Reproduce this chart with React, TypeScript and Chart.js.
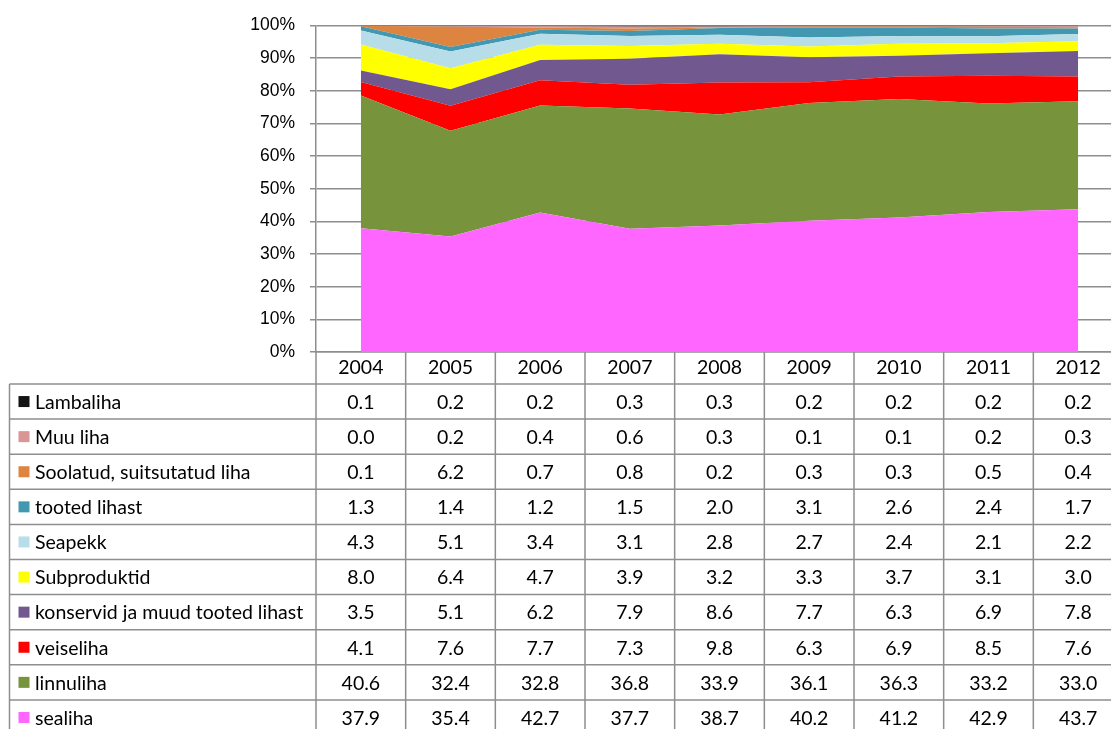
import React, { useEffect, useRef } from 'react';
import { Chart, registerables } from 'chart.js';

Chart.register(...registerables);

// ---- Data (percent shares) ----
const years = ['2004', '2005', '2006', '2007', '2008', '2009', '2010', '2011', '2012'];

const lambaliha = [0.1, 0.2, 0.2, 0.3, 0.3, 0.2, 0.2, 0.2, 0.2];
const muuLiha = [0.0, 0.2, 0.4, 0.6, 0.3, 0.1, 0.1, 0.2, 0.3];
const soolatud = [0.1, 6.2, 0.7, 0.8, 0.2, 0.3, 0.3, 0.5, 0.4];
const tootedLihast = [1.3, 1.4, 1.2, 1.5, 2.0, 3.1, 2.6, 2.4, 1.7];
const seapekk = [4.3, 5.1, 3.4, 3.1, 2.8, 2.7, 2.4, 2.1, 2.2];
const subproduktid = [8.0, 6.4, 4.7, 3.9, 3.2, 3.3, 3.7, 3.1, 3.0];
const konservid = [3.5, 5.1, 6.2, 7.9, 8.6, 7.7, 6.3, 6.9, 7.8];
const veiseliha = [4.1, 7.6, 7.7, 7.3, 9.8, 6.3, 6.9, 8.5, 7.6];
const linnuliha = [40.6, 32.4, 32.8, 36.8, 33.9, 36.1, 36.3, 33.2, 33.0];
const sealiha = [37.9, 35.4, 42.7, 37.7, 38.7, 40.2, 41.2, 42.9, 43.7];

const seriesNames = [
  'Lambaliha',
  'Muu liha',
  'Soolatud, suitsutatud liha',
  'tooted lihast',
  'Seapekk',
  'Subproduktid',
  'konservid ja muud tooted lihast',
  'veiseliha',
  'linnuliha',
  'sealiha',
];
const seriesValues = [
  lambaliha,
  muuLiha,
  soolatud,
  tootedLihast,
  seapekk,
  subproduktid,
  konservid,
  veiseliha,
  linnuliha,
  sealiha,
];
const seriesColors = [
  '#141414',
  '#D99694',
  '#DD8441',
  '#4298B0',
  '#B7DEE8',
  '#FFFF00',
  '#71588F',
  '#FF0000',
  '#77933C',
  '#FF66FF',
];

const yTickValues = [0, 10, 20, 30, 40, 50, 60, 70, 80, 90, 100];

// ---- styling ----
const LINE = '#8e8e8e';
const TABLE_FONT_SIZE = 19.5;
const TABLE_FONT = `${TABLE_FONT_SIZE}px Lato`;
const ROW_H = 35.1;
const HEADER_H = 32;
const TABLE_LEFT = 9.5;

const columnSums = years.map((_, j) => seriesValues.reduce((s, arr) => s + arr[j], 0));

const tablePlugin = {
  id: 'dataTable',
  afterDraw(chart: any) {
    const ctx: CanvasRenderingContext2D = chart.ctx;
    const xs = chart.scales.x;
    const area = chart.chartArea;
    const n = years.length;
    const step = xs.getPixelForValue(1) - xs.getPixelForValue(0);
    const left = xs.getPixelForValue(0) - step / 2;
    const right = xs.getPixelForValue(n - 1) + step / 2;
    const headerBottom = area.bottom + HEADER_H;
    const H = chart.height;

    ctx.save();
    ctx.strokeStyle = LINE;
    ctx.lineWidth = 1.5;
    const line = (x1: number, y1: number, x2: number, y2: number) => {
      ctx.beginPath();
      ctx.moveTo(x1, y1);
      ctx.lineTo(x2, y2);
      ctx.stroke();
    };
    for (let i = 0; i <= n; i++) {
      const x = left + i * step;
      line(x, area.bottom, x, H);
    }
    line(TABLE_LEFT, headerBottom, TABLE_LEFT, H);
    for (let r = 0; r <= seriesNames.length; r++) {
      const y = headerBottom + r * ROW_H;
      line(TABLE_LEFT, y, right, y);
    }

    ctx.font = TABLE_FONT;
    ctx.fillStyle = '#000';
    ctx.textBaseline = 'middle';
    seriesNames.forEach((name, r) => {
      const cy = headerBottom + (r + 0.5) * ROW_H;
      ctx.fillStyle = seriesColors[r];
      ctx.fillRect(18.5, cy - 5.5, 11, 11);
      ctx.fillStyle = '#000';
      ctx.textAlign = 'left';
      ctx.fillText(name, 35, cy + 1);
      ctx.textAlign = 'center';
      seriesValues[r].forEach((v, j) => {
        ctx.fillText(v.toFixed(1), xs.getPixelForValue(j), cy + 1);
      });
    });
    ctx.restore();
  },
};

export default function App() {
  const ref = useRef<HTMLCanvasElement | null>(null);

  useEffect(() => {
    if (!ref.current) return;
    const stackOrder = [...seriesNames.keys()].reverse();
    const datasets = stackOrder.map((idx, k) => ({
      label: seriesNames[idx],
      data: seriesValues[idx].map((v, j) => (v / columnSums[j]) * 100),
      backgroundColor: seriesColors[idx],
      borderColor: 'rgba(0,0,0,0)',
      borderWidth: 0,
      pointRadius: 0,
      pointHoverRadius: 0,
      tension: 0,
      fill: k === 0 ? 'origin' : '-1',
    }));

    const chart = new Chart(ref.current, {
      type: 'line',
      data: { labels: years, datasets },
      options: {
        animation: false,
        responsive: false,
        maintainAspectRatio: false,
        layout: { padding: { top: 23, left: 0, right: 0, bottom: 0 } },
        plugins: {
          legend: { display: false },
          tooltip: { enabled: false },
        },
        scales: {
          x: {
            offset: true,
            grid: { display: false, drawTicks: false },
            border: { display: true, color: LINE, width: 1.5 },
            ticks: {
              color: '#000',
              font: { family: 'Lato', size: TABLE_FONT_SIZE },
              padding: 4.5,
              autoSkip: false,
              maxRotation: 0,
            },
            afterFit: (scale: any) => {
              scale.height = 729 - 352;
            },
          },
          y: {
            stacked: true,
            min: 0,
            max: 100,
            afterBuildTicks: (scale: any) => {
              scale.ticks = yTickValues.map((v) => ({ value: v }));
            },
            grid: { color: LINE, lineWidth: 1.5, tickLength: 6, drawTicks: true },
            border: { display: true, color: LINE, width: 1.5 },
            ticks: {
              color: '#000',
              font: { family: '"Liberation Sans"', size: 17.5 },
              padding: 15,
              callback: (v: any) => v + '%',
            },
            afterFit: (scale: any) => {
              scale.width = 316;
            },
          },
        },
      },
      plugins: [tablePlugin],
    });
    return () => chart.destroy();
  }, []);

  return (
    <div
      style={{
        position: 'fixed',
        left: 0,
        top: 0,
        width: 1111,
        height: 729,
        overflow: 'hidden',
        background: '#fff',
      }}
    >
      <canvas ref={ref} width={1123} height={729} style={{ width: 1123, height: 729, display: 'block' }} />
    </div>
  );
}
